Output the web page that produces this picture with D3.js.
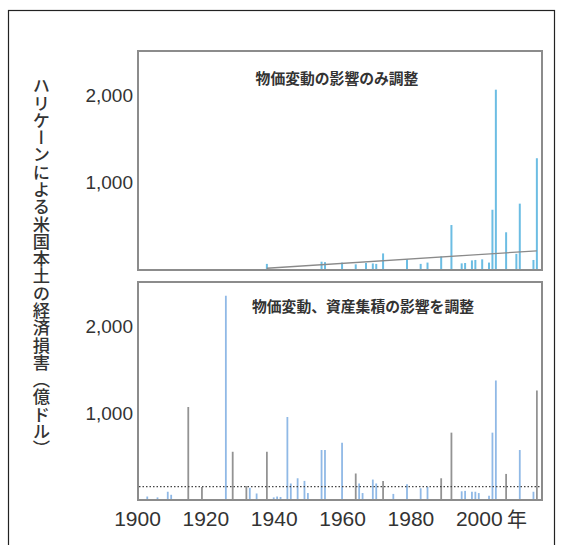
<!DOCTYPE html>
<html>
<head>
<meta charset="utf-8">
<script src="https://cdn.jsdelivr.net/npm/d3@7"></script>
<style>
  body { margin: 0; background: #fff; }
  svg { display: block; }
</style>
</head>
<body>
<svg id="chart" width="564" height="545"></svg>
<script>
// top panel: adjusted for inflation only (100M USD)
const topYears = [1938, 1954, 1955, 1960, 1964, 1967, 1969, 1970, 1972, 1979, 1983, 1985, 1989, 1992,
  1995, 1996, 1998, 1999, 2001, 2003, 2004, 2005, 2008, 2011, 2012, 2016, 2017];
const topValues = [70, 95, 90, 85, 65, 80, 75, 70, 190, 122, 70, 85, 155, 515,
  76, 80, 110, 115, 122, 85, 690, 2065, 432, 185, 760, 115, 1280];
const trendYears = [1938, 2017];
const trendValues = [20, 220];

// bottom panel: adjusted for inflation and wealth accumulation
const bottomYears = [1903, 1906, 1909, 1910, 1915, 1919, 1926, 1928, 1932, 1933, 1935, 1938, 1940, 1941,
  1942, 1944, 1945, 1947, 1949, 1950, 1954, 1955, 1960, 1964, 1965, 1966, 1969, 1970, 1972, 1975,
  1979, 1983, 1985, 1989, 1992, 1995, 1996, 1998, 1999, 2000, 2003, 2004, 2005, 2008, 2012, 2016, 2017];
const bottomValues = [40, 30, 95, 60, 1070, 150, 2350, 555, 160, 140, 75, 555, 30, 40,
  35, 955, 190, 250, 220, 80, 575, 575, 660, 305, 190, 80, 235, 190, 220, 70,
  180, 135, 150, 250, 775, 100, 105, 95, 95, 80, 50, 775, 1375, 300, 575, 95, 1260];
const bottomKinds = ["b", "b", "b", "b", "g", "g", "b", "g", "g", "b", "b", "g", "b", "b",
  "b", "b", "b", "b", "b", "b", "b", "b", "b", "g", "b", "b", "b", "b", "g", "b",
  "b", "b", "b", "g", "g", "b", "b", "b", "b", "b", "b", "b", "b", "g", "b", "b", "g"];
const baselineValue = 155;

const xTicks = [1900, 1920, 1940, 1960, 1980, 2000];
const yTicks = [1000, 2000];
const topTitle = "物価変動の影響のみ調整";
const bottomTitle = "物価変動、資産集積の影響を調整";
const yLabel = "ハリケーンによる米国本土の経済損害（億ドル）";

const svg = d3.select("#chart");
const jp = "'Noto Sans CJK JP', sans-serif";
const num = "'Liberation Sans', Arial, sans-serif";

// outer frame
svg.append("rect")
  .attr("x", 8.5).attr("y", 10.5)
  .attr("width", 546).attr("height", 560)
  .attr("fill", "none").attr("stroke", "#222").attr("stroke-width", 1.2);

const x = d3.scaleLinear().domain([1900, 2018.5]).range([137, 542]);

const panels = [
  { top: 51, bottom: 270, title: topTitle, titleX: 337, titleY: 84 },
  { top: 282, bottom: 500, title: bottomTitle, titleX: 363, titleY: 312 }
];

panels.forEach(p => {
  p.y = d3.scaleLinear().domain([0, 2500]).range([p.bottom, p.top + 0.7]);

  svg.append("g")
    .attr("transform", "translate(138,0)")
    .call(d3.axisLeft(p.y).tickValues(yTicks).tickSize(0).tickPadding(5).tickFormat(d3.format(",")))
    .call(g => g.select(".domain").remove())
    .selectAll("text")
    .attr("font-family", num).attr("font-size", 19).attr("fill", "#333");

  svg.append("text")
    .attr("x", p.titleX).attr("y", p.titleY)
    .attr("text-anchor", "middle")
    .attr("font-family", jp).attr("font-size", 14.8).attr("font-weight", "bold")
    .attr("fill", "#333")
    .text(p.title);
});

const yTop = panels[0].y;
const yBot = panels[1].y;

// top panel bars
svg.append("g").selectAll("line")
  .data(topYears.map((yr, i) => ({ yr, v: topValues[i] })))
  .join("line")
  .attr("x1", d => x(d.yr)).attr("x2", d => x(d.yr))
  .attr("y1", yTop(0)).attr("y2", d => yTop(d.v))
  .attr("stroke", "#6cbde3").attr("stroke-width", 2);

svg.append("path")
  .datum(trendYears.map((yr, i) => [yr, trendValues[i]]))
  .attr("fill", "none").attr("stroke", "#8a8a8a").attr("stroke-width", 1.3)
  .attr("d", d3.line().x(d => x(d[0])).y(d => yTop(d[1])));

// bottom panel bars
svg.append("g").selectAll("line")
  .data(bottomYears.map((yr, i) => ({ yr, v: bottomValues[i], k: bottomKinds[i] })))
  .join("line")
  .attr("x1", d => x(d.yr)).attr("x2", d => x(d.yr))
  .attr("y1", yBot(0)).attr("y2", d => yBot(d.v))
  .attr("stroke", d => d.k === "g" ? "#939393" : "#90b9e6")
  .attr("stroke-width", 1.8);

svg.append("line")
  .attr("x1", 139).attr("x2", 541)
  .attr("y1", yBot(baselineValue)).attr("y2", yBot(baselineValue))
  .attr("stroke", "#444").attr("stroke-width", 1.2).attr("stroke-dasharray", "1.5,2");

// panel frames
panels.forEach(p => {
  svg.append("rect")
    .attr("x", 138).attr("y", p.top)
    .attr("width", 404).attr("height", p.bottom - p.top)
    .attr("fill", "none").attr("stroke", "#8c8c8c").attr("stroke-width", 2);
});

// x axis
svg.append("g")
  .attr("transform", "translate(0,500)")
  .call(d3.axisBottom(x).tickValues(xTicks).tickSize(0).tickPadding(11).tickFormat(d3.format("d")))
  .call(g => g.select(".domain").remove())
  .selectAll("text")
  .attr("font-family", num).attr("font-size", 21).attr("fill", "#333");

svg.append("text")
  .attr("x", 517).attr("y", 527)
  .attr("text-anchor", "middle")
  .attr("font-family", jp).attr("font-size", 20).attr("fill", "#333")
  .text("年");

// vertical y label
svg.append("text")
  .attr("x", 41.5).attr("y", 77)
  .attr("writing-mode", "vertical-rl")
  .attr("font-family", jp).attr("font-size", 17.3).attr("font-weight", 500).attr("fill", "#333")
  .text(yLabel);
</script>
</body>
</html>
